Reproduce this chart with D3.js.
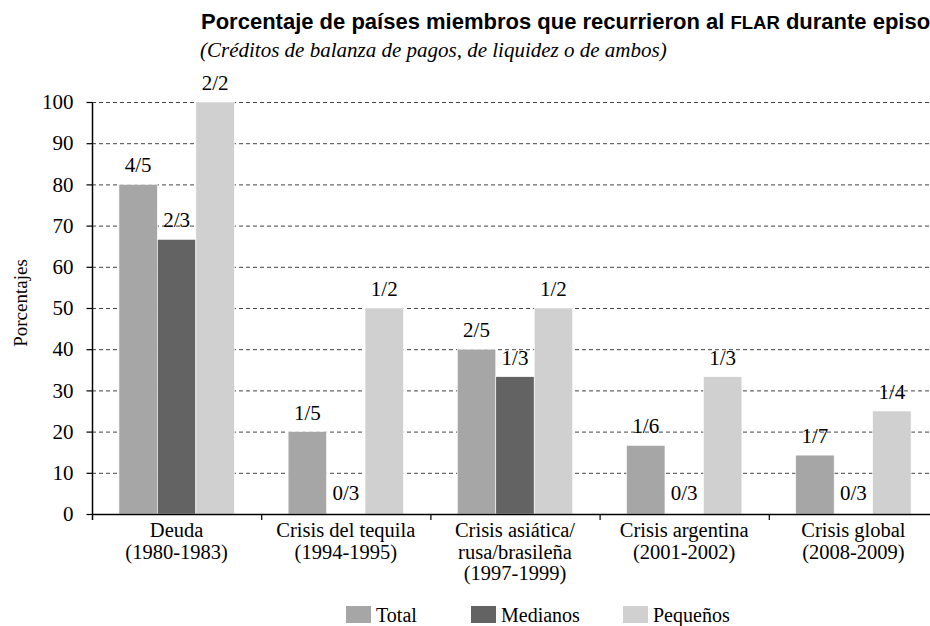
<!DOCTYPE html>
<html>
<head>
<meta charset="utf-8">
<script src="https://cdn.jsdelivr.net/npm/d3@7"></script>
<style>
  body { margin: 0; background: #fff; }
  svg { display: block; }
  .serif { font-family: "Liberation Serif", "DejaVu Serif", serif; }
</style>
</head>
<body>
<svg id="chart" width="930" height="626"></svg>
<script>
// chart data
var categories = ["Deuda", "Tequila", "Asiatica", "Argentina", "Global"];
var categoryLines = [
  ["Deuda", "(1980-1983)"],
  ["Crisis del tequila", "(1994-1995)"],
  ["Crisis asiática/", "rusa/brasileña", "(1997-1999)"],
  ["Crisis argentina", "(2001-2002)"],
  ["Crisis global", "(2008-2009)"],
];
var seriesNames = ["Total", "Medianos", "Pequeños"];
var totalValues = [80, 20, 40, 16.67, 14.29];
var medianosValues = [66.67, 0, 33.33, 0, 0];
var pequenosValues = [100, 50, 50, 33.33, 25];
var totalLabels = ["4/5", "1/5", "2/5", "1/6", "1/7"];
var medianosLabels = ["2/3", "0/3", "1/3", "0/3", "0/3"];
var pequenosLabels = ["2/2", "1/2", "1/2", "1/3", "1/4"];
var yTicks = [0, 10, 20, 30, 40, 50, 60, 70, 80, 90, 100];

var colors = { Total: "#a6a6a6", Medianos: "#636363", "Pequeños": "#d0d0d0" };

var svg = d3.select("#chart");
var margin = { top: 102, left: 92, bottom: 514, right: 938 };

var x0 = d3.scaleBand().domain(categories).range([margin.left, margin.right])
  .paddingInner(0).paddingOuter(0);
var x1 = d3.scaleBand().domain(seriesNames).range([0, x0.bandwidth()])
  .paddingInner(0).paddingOuter(0.7);
var y = d3.scaleLinear().domain([0, 100]).range([margin.bottom, margin.top]);

// build rows
var rows = categories.map(function (c, i) {
  return [
    { cat: c, s: "Total", v: totalValues[i], label: totalLabels[i] },
    { cat: c, s: "Medianos", v: medianosValues[i], label: medianosLabels[i] },
    { cat: c, s: "Pequeños", v: pequenosValues[i], label: pequenosLabels[i] },
  ];
});
var flat = [].concat.apply([], rows);

// title (cut at the right edge, as in the original)
var title = svg.append("text")
  .attr("x", 201).attr("y", 29)
  .style("font-family", "'Liberation Sans', Arial, sans-serif")
  .style("font-weight", "bold")
  .style("font-size", "22px")
  .attr("fill", "#000");
title.append("tspan").text("Porcentaje de países miembros que recurrieron al ");
title.append("tspan").style("font-size", "18.5px").text("FLAR");
title.append("tspan").text(" durante episodios");

svg.append("text")
  .attr("class", "serif")
  .attr("x", 200).attr("y", 57)
  .style("font-size", "21px")
  .style("font-style", "italic")
  .text("(Créditos de balanza de pagos, de liquidez o de ambos)");

// gridlines
svg.append("g").attr("class", "grid")
  .selectAll("line")
  .data(yTicks.filter(function (t) { return t > 0; }))
  .join("line")
  .attr("x1", margin.left).attr("x2", 930)
  .attr("y1", function (d) { return y(d) + 0.5; })
  .attr("y2", function (d) { return y(d) + 0.5; })
  .attr("stroke", "#444")
  .attr("stroke-width", 1)
  .attr("stroke-dasharray", "4,3");

// bars
svg.append("g").attr("class", "bars")
  .selectAll("rect")
  .data(flat)
  .join("rect")
  .attr("x", function (d) { return x0(d.cat) + x1(d.s); })
  .attr("width", x1.bandwidth())
  .attr("y", function (d) { return y(d.v); })
  .attr("height", function (d) { return y(0) - y(d.v); })
  .attr("fill", function (d) { return colors[d.s]; })
  .attr("stroke", "#fff")
  .attr("stroke-width", 0.6);

// value labels
svg.append("g").attr("class", "labels")
  .selectAll("text")
  .data(flat)
  .join("text")
  .attr("class", "serif")
  .attr("x", function (d) { return x0(d.cat) + x1(d.s) + x1.bandwidth() / 2; })
  .attr("y", function (d) { return d.v === 0 ? y(0) - 14 : y(d.v) - 12; })
  .attr("text-anchor", "middle")
  .style("font-size", "21px")
  .text(function (d) { return d.label; });

// y axis
var yAxis = svg.append("g")
  .attr("transform", "translate(" + (margin.left + 0.5) + ",0)")
  .call(d3.axisLeft(y).tickValues(yTicks).tickSize(6).tickPadding(13).tickSizeOuter(0));
yAxis.select(".domain").attr("stroke", "#000").attr("stroke-width", 1.5)
  .attr("d", "M0," + (y(100) + 0.5) + "V" + (y(0) + 6));
yAxis.selectAll(".tick line").attr("stroke", "#000").attr("stroke-width", 1.2);
yAxis.selectAll(".tick text")
  .attr("class", "serif")
  .style("font-size", "21px")
  .attr("fill", "#000");

// x axis
var xAxis = svg.append("g").attr("class", "x-axis");
xAxis.append("line")
  .attr("x1", margin.left).attr("x2", 930)
  .attr("y1", y(0) + 0.5).attr("y2", y(0) + 0.5)
  .attr("stroke", "#000").attr("stroke-width", 1.5);
xAxis.selectAll(".xtick")
  .data(categories.slice(1))
  .join("line")
  .attr("class", "xtick")
  .attr("x1", function (d) { return x0(d) + 0.5; })
  .attr("x2", function (d) { return x0(d) + 0.5; })
  .attr("y1", y(0)).attr("y2", y(0) + 6)
  .attr("stroke", "#000").attr("stroke-width", 1.2);

// one text per line so the lines stay separate
xAxis.selectAll(".xlabel")
  .data(categories)
  .join("g")
  .attr("class", "xlabel")
  .attr("transform", function (d) {
    return "translate(" + (x0(d) + x0.bandwidth() / 2) + "," + (y(0) + 23) + ")";
  })
  .each(function (d, i) {
    d3.select(this).selectAll("text")
      .data(categoryLines[i])
      .join("text")
      .attr("class", "serif")
      .attr("text-anchor", "middle")
      .attr("y", function (line, k) { return k * 21.5; })
      .style("font-size", "20.5px")
      .text(function (line) { return line; });
  });

// y axis title
svg.append("text")
  .attr("class", "serif")
  .attr("transform", "translate(27," + 303 + ") rotate(-90)")
  .attr("text-anchor", "middle")
  .style("font-size", "19px")
  .text("Porcentajes");

// legend (sits on the bottom edge of the picture, as in the original)
var legendX = [346, 471, 623];
var legend = svg.append("g").attr("class", "legend")
  .selectAll("g")
  .data(seriesNames)
  .join("g")
  .attr("transform", function (d, i) { return "translate(" + legendX[i] + ",606)"; });
legend.append("rect")
  .attr("width", 25).attr("height", 17)
  .attr("fill", function (d) { return colors[d]; });
legend.append("text")
  .attr("class", "serif")
  .attr("x", 30).attr("y", 16)
  .style("font-size", "20px")
  .text(function (d) { return d; });
</script>
</body>
</html>
